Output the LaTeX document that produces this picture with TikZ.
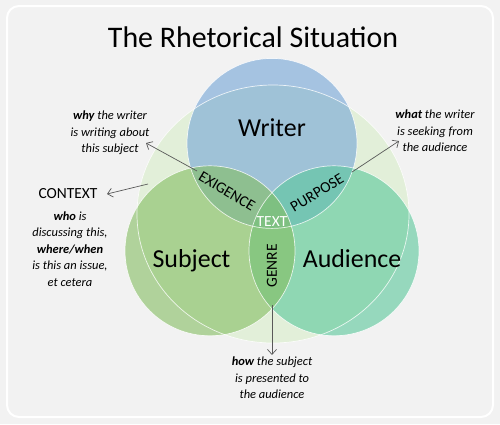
\documentclass[tikz,border=0pt]{standalone}
\usepackage{fontspec}
\setmainfont{Carlito}
\usepackage{xcolor}
\usepackage{tikz}
\usetikzlibrary{arrows.meta,positioning}

\definecolor{panelgray}{HTML}{F2F2F2}
\definecolor{contextgreen}{HTML}{E2EFD9}
\definecolor{writerblue}{RGB}{115,165,215}
\definecolor{subjectgreen}{RGB}{132,189,97}
\definecolor{audiencegreen}{RGB}{89,199,155}
\definecolor{arrowgray}{HTML}{595959}

\tikzset{
  ring/.style={draw=white, line width=0.7bp, draw opacity=0.8},
  big/.style={font=\fontsize{26}{30}\selectfont, anchor=base},
  tag/.style={font=\fontsize{15.5}{18}\selectfont, inner sep=0pt},
  note/.style={font=\fontsize{12.5}{16.5}\selectfont\itshape, align=center, inner sep=2bp},
  pointer/.style={->, >={Straight Barb[length=5bp,width=9bp]}, draw=arrowgray, line width=0.7bp},
}

\begin{document}
\begin{tikzpicture}[x=1bp,y=-1bp]
        \useasboundingbox (0,0) rectangle (500,424);
        \fill[panelgray] (0,0) rectangle (500,424);
        \draw[white, line width=2bp, rounded corners=12bp] (7,6) rectangle (493,417);

        \node[font=\fontsize{30}{36}\selectfont, anchor=base] (title) at (253,47) {The Rhetorical Situation};

        \coordinate (wr) at (272,143.4);
        \coordinate (sb) at (210,250.8);
        \coordinate (au) at (334,250.8);

        \fill[contextgreen] (273,214) ellipse (136 and 129);
        \fill[writerblue, fill opacity=0.6] (wr) circle (85);
        \fill[audiencegreen, fill opacity=0.6] (au) circle (85);
        \fill[subjectgreen, fill opacity=0.6] (sb) circle (85);

        \draw[ring] (273,214) ellipse (136 and 129);
        \draw[ring] (wr) circle (85);
        \draw[ring] (au) circle (85);
        \draw[ring] (sb) circle (85);

        \node[big] (writer) at (272,136) {Writer};
        \node[big] (subject) at (191.5,267) {Subject};
        \node[big] (audience) at (352,267) {Audience};

        \node[tag, rotate=-31] (exigence) at (227,191) {EXIGENCE};
        \node[tag, rotate=31] (purpose) at (317,193) {PURPOSE};
        \node[tag, text=white] (text) at (272,222) {TEXT};
        \node[tag, rotate=90] (genre) at (272,266) {GENRE};

        \node[note] (why) at (110,133) {\textbf{why} the writer\\is writing about\\this subject};
        \node[tag] (context) at (68,194) {CONTEXT};
        \node[note] (who) at (70,249) {\textbf{who} is\\discussing this,\\\textbf{where/when}\\is this an issue,\\et cetera};
        \node[note] (what) at (435,131) {\textbf{what} the writer\\is seeking from\\the audience};
        \node[note] (how) at (272,378) {\textbf{how} the subject\\is presented to\\the audience};

        \coordinate (whytail) at (197,171);
        \coordinate (whytip) at (146,143);
        \coordinate (ctxtail) at (148,184);
        \coordinate (ctxtip) at (107,194);
        \coordinate (whattail) at (352,172);
        \coordinate (whattip) at (399,141);
        \coordinate (howtail) at (272,305);

        \draw[pointer] (whytail) -- (whytip);
        \draw[pointer] (ctxtail) -- (ctxtip);
        \draw[pointer] (whattail) -- (whattip);
        \draw[pointer] (howtail) -- (how.north);
    \end{tikzpicture}
\end{document}
